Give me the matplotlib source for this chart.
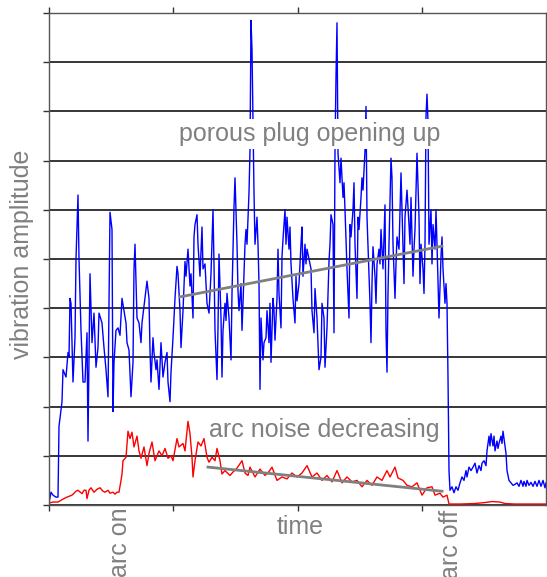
import numpy as np
import matplotlib.pyplot as plt

# sample index (time) and amplitude of the vibration signal (blue)
blue_t = [0, 2, 4, 7, 9, 10, 13, 14, 17, 19,
          20, 21, 22, 24, 26, 27, 29, 30, 32, 34,
          36, 38, 39, 41, 43, 45, 47, 49, 50, 53,
          55, 57, 59, 61, 63, 64, 65, 67, 69, 71,
          73, 75, 77, 78, 80, 82, 84, 85, 86, 88,
          90, 92, 93, 96, 98, 100, 101, 102, 104, 105,
          107, 108, 110, 112, 114, 116, 118, 119, 121, 122,
          124, 126, 128, 129, 131, 132, 134, 136, 137, 139,
          141, 142, 144, 145, 146, 148, 149, 151, 153, 154,
          156, 158, 160, 162, 164, 165, 166, 168, 169, 170,
          172, 173, 174, 176, 177, 178, 180, 182, 183, 185,
          186, 188, 189, 190, 192, 193, 194, 196, 197, 198,
          200, 201, 202, 203, 204, 205, 206, 208, 209, 210,
          211, 212, 214, 215, 217, 218, 220, 221, 222, 224,
          225, 226, 228, 229, 230, 232, 233, 234, 236, 237,
          238, 240, 241, 242, 244, 246, 247, 248, 250, 252,
          253, 254, 256, 257, 258, 260, 262, 263, 265, 266,
          268, 270, 272, 273, 275, 276, 278, 280, 281, 282,
          284, 285, 286, 287, 288, 289, 291, 292, 294, 295,
          296, 298, 300, 301, 302, 304, 305, 306, 308, 309,
          310, 312, 313, 314, 316, 317, 318, 320, 321, 322,
          323, 324, 326, 327, 328, 330, 331, 332, 334, 335,
          336, 337, 338, 339, 340, 342, 343, 344, 346, 347,
          348, 350, 351, 352, 354, 355, 356, 358, 360, 361,
          362, 364, 365, 366, 368, 370, 371, 372, 374, 375,
          376, 377, 378, 379, 380, 382, 383, 384, 386, 387,
          388, 390, 392, 393, 394, 396, 397, 398, 399, 400,
          401, 403, 405, 407, 409, 411, 413, 415, 417, 418,
          420, 422, 424, 426, 428, 430, 432, 433, 435, 437,
          438, 440, 441, 442, 444, 445, 446, 448, 449, 450,
          452, 453, 454, 456, 457, 458, 460, 462, 464, 466,
          468, 470, 472, 474, 475, 477, 478, 480, 482, 484,
          486, 488, 490, 492, 494, 496, 497]
blue_amp = [0.04, 0.26, 0.2, 0.16, 0.16, 1.6, 2.1, 2.75, 2.6, 3.1,
            3.0, 4.2, 4.1, 2.5, 3.4, 5.0, 6.3, 5.0, 3.55, 2.5,
            2.5, 3.5, 1.3, 4.7, 3.3, 3.9, 2.8, 3.2, 3.9, 3.7,
            3.2, 2.75, 2.2, 5.95, 5.6, 1.9, 2.9, 3.55, 3.6, 3.45,
            4.2, 3.95, 3.7, 3.3, 3.15, 2.2, 2.9, 4.8, 5.3, 3.8,
            3.7, 3.3, 3.7, 4.2, 4.55, 4.2, 3.15, 2.5, 3.4, 3.1,
            2.75, 2.95, 2.35, 3.3, 2.6, 2.9, 3.1, 2.5, 2.1, 2.7,
            3.4, 4.2, 4.85, 4.7, 3.95, 3.2, 3.95, 4.95, 4.65, 5.2,
            4.45, 4.7, 3.8, 5.45, 5.7, 5.9, 5.3, 4.65, 5.65, 4.8,
            4.9, 4.1, 3.9, 4.7, 6.0, 4.9, 3.55, 2.55, 3.6, 5.1,
            3.8, 2.6, 3.55, 4.1, 3.75, 4.3, 3.8, 2.95, 4.3, 6.05,
            6.65, 5.3, 4.35, 3.95, 4.5, 3.55, 4.1, 5.3, 5.6, 5.3,
            6.35, 7.2, 9.85, 9.25, 7.8, 6.35, 5.3, 5.85, 5.3, 4.5,
            2.35, 3.8, 2.95, 3.3, 3.4, 3.95, 3.3, 4.1, 2.9, 4.2,
            3.95, 3.35, 4.2, 5.2, 4.3, 3.6, 5.05, 5.4, 6.0, 5.3,
            5.85, 5.2, 5.65, 4.9, 4.2, 3.7, 4.65, 4.15, 4.5, 5.3,
            5.65, 4.65, 5.3, 4.9, 5.2, 5.0, 4.8, 3.95, 3.5, 4.4,
            3.8, 2.75, 3.0, 4.1, 3.8, 2.8, 3.6, 4.95, 5.3, 5.9,
            5.7, 3.5, 7.2, 8.7, 9.8, 7.15, 6.55, 7.05, 6.25, 6.55,
            6.0, 4.8, 3.8, 5.7, 5.45, 6.0, 6.55, 5.3, 4.2, 5.85,
            5.6, 6.25, 6.65, 6.4, 7.2, 8.1, 5.85, 4.65, 4.1, 3.3,
            4.5, 5.25, 4.65, 4.1, 4.9, 5.2, 4.9, 5.6, 4.8, 5.45,
            6.1, 3.55, 2.7, 4.3, 5.3, 7.05, 6.65, 5.3, 4.2, 4.9,
            5.45, 5.2, 6.0, 6.75, 5.3, 4.5, 5.85, 6.4, 5.7, 5.3,
            6.25, 4.65, 5.2, 5.6, 7.15, 5.85, 4.5, 5.3, 4.8, 4.3,
            5.3, 7.9, 8.35, 7.8, 5.3, 6.0, 4.9, 5.7, 5.2, 6.0,
            5.3, 3.8, 5.05, 5.45, 4.8, 4.1, 4.5, 4.1, 2.6, 0.7,
            0.3, 0.37, 0.25, 0.37, 0.3, 0.45, 0.57, 0.5, 0.7, 0.57,
            0.77, 0.7, 0.77, 0.85, 0.65, 0.8, 0.7, 0.85, 0.9, 0.8,
            1.1, 1.4, 1.2, 1.45, 1.2, 1.4, 1.1, 1.3, 1.15, 1.25,
            1.4, 1.25, 1.5, 1.2, 1.05, 0.7, 0.5, 0.45, 0.4, 0.42,
            0.45, 0.38, 0.5, 0.38, 0.48, 0.38, 0.5, 0.4, 0.46, 0.38,
            0.48, 0.38, 0.5, 0.38, 0.5, 0.35, 0.45]

# arc noise (red)
red_t = [0, 4, 9, 14, 18, 23, 27, 29, 33, 35,
         37, 38, 40, 42, 45, 48, 51, 54, 56, 59,
         61, 64, 66, 68, 70, 72, 73, 74, 77, 79,
         81, 83, 85, 88, 90, 92, 95, 98, 100, 103,
         106, 110, 113, 116, 119, 122, 124, 128, 130, 134,
         136, 139, 141, 143, 144, 146, 149, 152, 155, 158,
         160, 163, 166, 168, 171, 173, 176, 181, 184, 188,
         193, 196, 199, 201, 206, 211, 216, 220, 223, 228,
         233, 238, 243, 248, 253, 258, 263, 268, 273, 278,
         283, 288, 293, 298, 303, 308, 313, 318, 323, 328,
         333, 338, 341, 346, 349, 354, 358, 363, 368, 373,
         378, 383, 386, 391, 394, 398, 400, 411, 426, 436,
         443, 451, 456, 466, 497]
red_amp = [0.04, 0.06, 0.06, 0.12, 0.16, 0.2, 0.28, 0.3, 0.23, 0.3,
           0.3, 0.13, 0.3, 0.35, 0.26, 0.32, 0.35, 0.28, 0.26, 0.3,
           0.24, 0.26, 0.22, 0.26, 0.26, 0.5, 0.63, 0.9, 0.97, 1.5,
           1.35, 1.48, 1.18, 1.4, 1.1, 0.95, 1.18, 0.8, 1.05, 1.28,
           0.9, 1.1, 1.0, 1.15, 0.95, 1.0, 0.9, 1.35, 1.18, 1.25,
           1.1, 1.7, 1.45, 0.97, 0.57, 0.9, 1.28, 1.2, 1.35, 0.97,
           0.87, 0.97, 0.9, 1.15, 0.9, 0.63, 0.7, 0.6, 0.67, 0.75,
           0.9, 0.65, 0.6, 0.77, 0.57, 0.73, 0.6, 0.68, 0.77, 0.5,
           0.57, 0.53, 0.65, 0.57, 0.65, 0.8, 0.57, 0.65, 0.5, 0.6,
           0.47, 0.7, 0.45, 0.57, 0.47, 0.5, 0.37, 0.5, 0.4, 0.57,
           0.5, 0.7, 0.57, 0.77, 0.55, 0.5, 0.4, 0.37, 0.45, 0.2,
           0.35, 0.37, 0.2, 0.24, 0.16, 0.2, 0.02, 0.02, 0.03, 0.05,
           0.07, 0.06, 0.03, 0.02, 0.02]

# trend lines (end points)
blue_trend_t = [131, 393]
blue_trend_amp = [4.23, 5.26]
red_trend_t = [159, 393]
red_trend_amp = [0.77, 0.28]

tick_step = 124.25
gray = '#808080'
fs = 18

fig = plt.figure(figsize=(5.47, 5.77), dpi=100)
ax = fig.add_axes([49/547, 72/577, 497/547, 492/577])

ax.plot(blue_t, blue_amp, color='blue', lw=1.0)
ax.plot(red_t, red_amp, color='red', lw=1.0)
ax.plot(blue_trend_t, blue_trend_amp, color=gray, lw=2.0)
ax.plot(red_trend_t, red_trend_amp, color=gray, lw=2.0)

ax.set_xlim(0, 497)
ax.set_ylim(0, 10)
ax.set_xticks(np.arange(4)*tick_step)
ax.set_yticks(np.arange(11))
ax.set_xticklabels([])
ax.set_yticklabels([])
ax.tick_params(direction='out', length=4, width=1, color='#333333',
               top=True, right=True)
ax.grid(axis='y', color='black', lw=1.1)
ax.set_axisbelow(True)
for s in ax.spines.values():
    s.set_color('#555555')
    s.set_linewidth(1.0)

box = dict(facecolor='white', edgecolor='none', pad=2)
ax.text(261, 7.54, 'porous plug opening up', color=gray, fontsize=fs,
        family='Liberation Sans', ha='center', va='center', bbox=box)
ax.text(275.5, 1.52, 'arc noise decreasing', color=gray, fontsize=fs,
        family='Liberation Sans', ha='center', va='center', bbox=box)

ax.text(251, -0.45, 'time', color=gray, fontsize=fs, family='Liberation Sans',
        ha='center', va='center', clip_on=False)
ax.text(71, -0.04, 'arc on', color=gray, fontsize=fs, family='Liberation Sans',
        rotation=90, ha='center', va='top', clip_on=False)
ax.text(402, -0.1, 'arc off', color=gray, fontsize=fs, family='Liberation Sans',
        rotation=90, ha='center', va='top', clip_on=False)
fig.text(22/547, 1 - 254/577, 'vibration amplitude', color=gray, fontsize=fs,
         family='Liberation Sans', rotation=90, ha='center', va='center')

fig.savefig('out.png', dpi=100)
